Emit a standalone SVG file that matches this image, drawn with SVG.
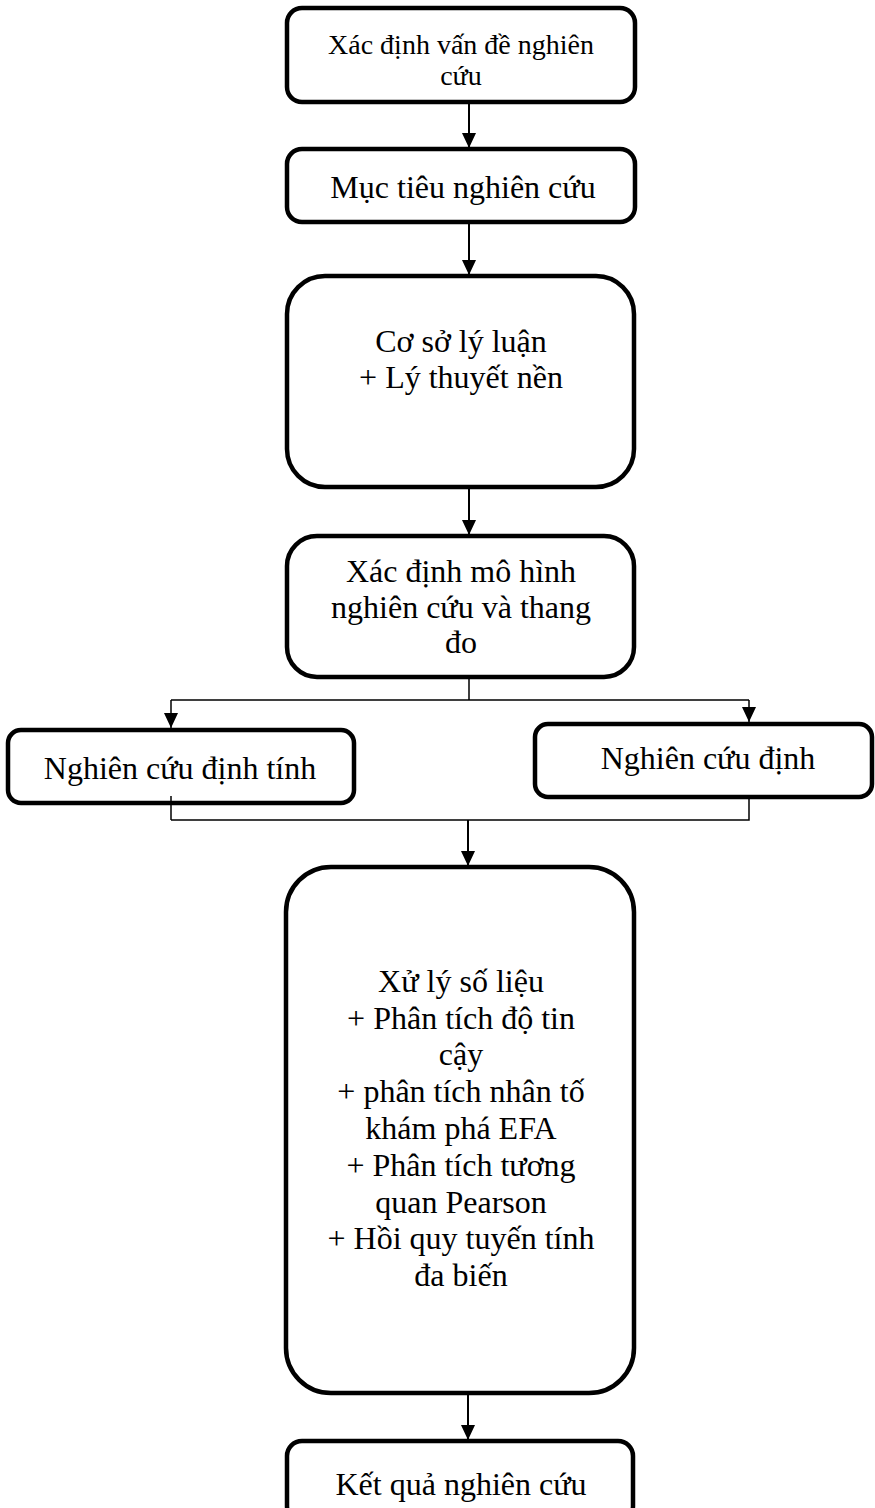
<svg xmlns="http://www.w3.org/2000/svg" width="875" height="1508" viewBox="0 0 875 1508">
<style>
.box{fill:#fff;stroke:#000;stroke-width:4.5}
.t{font-family:"Liberation Serif","Times New Roman",serif;font-size:32px;fill:#000;text-anchor:middle}
.s{font-size:28px}
.c{fill:none;stroke:#000;stroke-width:2}
.c2{fill:none;stroke:#000;stroke-width:1.5}
</style>
<defs>
<marker id="ah" markerUnits="userSpaceOnUse" markerWidth="16" markerHeight="16" viewBox="0 0 16 16" refX="15" refY="8" orient="auto">
<path d="M0,1 L15,8 L0,15 Z" fill="#000"/>
</marker>
</defs>
<rect width="875" height="1508" fill="#fff"/>
<g id="connectors">
<line class="c" x1="469" y1="102" x2="469" y2="148" marker-end="url(#ah)"/>
<line class="c" x1="469" y1="222" x2="469" y2="275" marker-end="url(#ah)"/>
<line class="c" x1="469" y1="487" x2="469" y2="535" marker-end="url(#ah)"/>
<path class="c2" d="M469,677 V700 M171,700 H749"/>
<line class="c2" x1="171" y1="700" x2="171" y2="728" marker-end="url(#ah)"/>
<line class="c2" x1="749" y1="700" x2="749" y2="722" marker-end="url(#ah)"/>
<path class="c2" d="M171,820 H749 V797"/>
<line class="c" x1="468" y1="820" x2="468" y2="866" marker-end="url(#ah)"/>
<line class="c" x1="468" y1="1393" x2="468" y2="1440" marker-end="url(#ah)"/>
</g>
<g id="n1">
<rect class="box" x="287" y="8" width="348" height="94" rx="15"/>
<text class="t s" x="461" y="54">Xác định vấn đề nghiên</text>
<text class="t s" x="461" y="85">cứu</text>
</g>
<g id="n2">
<rect class="box" x="287" y="149" width="348" height="73" rx="15"/>
<text class="t" x="463" y="198">Mục tiêu nghiên cứu</text>
</g>
<g id="n3">
<rect class="box" x="287" y="276" width="347" height="211" rx="38"/>
<text class="t" x="461" y="352">Cơ sở lý luận</text>
<text class="t" x="461" y="388">+ Lý thuyết nền</text>
</g>
<g id="n4">
<rect class="box" x="287" y="536" width="347" height="141" rx="30"/>
<text class="t" x="461" y="582">Xác định mô hình</text>
<text class="t" x="461" y="618">nghiên cứu và thang</text>
<text class="t" x="461" y="653">đo</text>
</g>
<g id="n5">
<rect class="box" x="8" y="730" width="346" height="73" rx="13"/>
<text class="t" x="180" y="779">Nghiên cứu định tính</text>
<path class="c2" d="M171,796 V820"/>
</g>
<g id="n6">
<rect class="box" x="535" y="724" width="337" height="73" rx="13"/>
<text class="t" x="708" y="769">Nghiên cứu định</text>
</g>
<g id="n7">
<rect class="box" x="286" y="867" width="348" height="526" rx="45"/>
<text class="t" x="461" y="992">Xử lý số liệu</text>
<text class="t" x="461" y="1029">+ Phân tích độ tin</text>
<text class="t" x="461" y="1065">cậy</text>
<text class="t" x="461" y="1102">+ phân tích nhân tố</text>
<text class="t" x="461" y="1139">khám phá EFA</text>
<text class="t" x="461" y="1176">+ Phân tích tương</text>
<text class="t" x="461" y="1213">quan Pearson</text>
<text class="t" x="461" y="1249">+ Hồi quy tuyến tính</text>
<text class="t" x="461" y="1286">đa biến</text>
</g>
<g id="n8">
<rect class="box" x="287" y="1441" width="346" height="80" rx="15"/>
<text class="t" x="461" y="1495">Kết quả nghiên cứu</text>
</g>
</svg>
